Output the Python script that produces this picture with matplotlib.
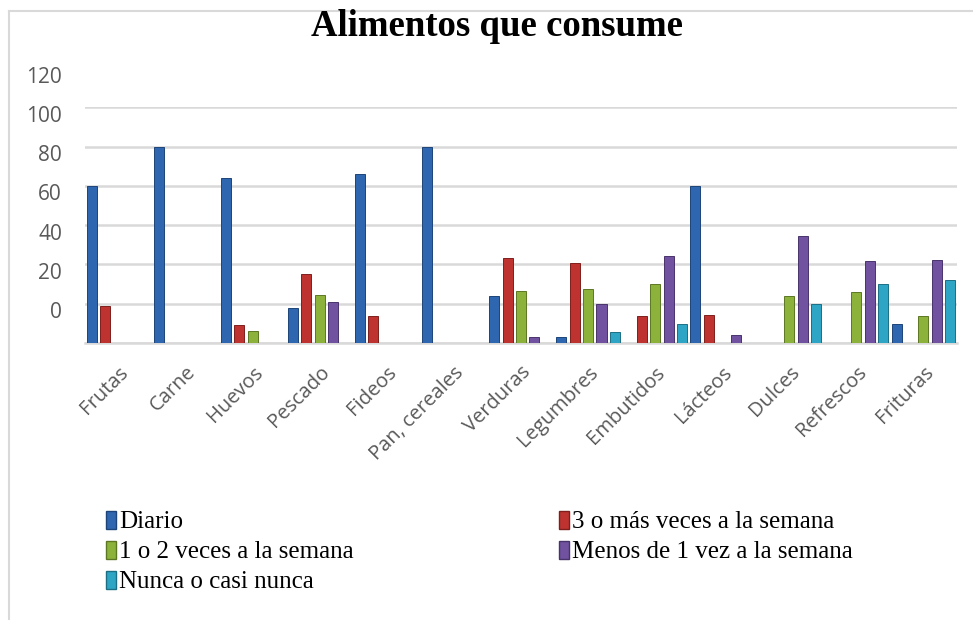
import matplotlib.pyplot as plt
import matplotlib.transforms as mtransforms
from matplotlib.patches import Patch
from matplotlib.lines import Line2D
import numpy as np

categories = ["Frutas", "Carne", "Huevos", "Pescado", "Fideos", "Pan, cereales",
              "Verduras", "Legumbres", "Embutidos", "Lácteos", "Dulces",
              "Refrescos", "Frituras"]
series_names = ["Diario", "3 o más veces a la semana", "1 o 2 veces a la semana",
                "Menos de 1 vez a la semana", "Nunca o casi nunca"]

diario = [80, 100, 84, 18, 86, 100, 24, 3, 0, 80, 0, 0, 9.5]
tres_mas = [19, 0, 9, 35, 13.5, 0, 43.5, 40.5, 13.5, 14.5, 0, 0, 0]
uno_dos = [0, 0, 6, 24.5, 0, 0, 26.5, 27.5, 30, 0, 24, 26, 13.5]
menos_uno = [0, 0, 0, 21, 0, 0, 3, 20, 44.5, 4, 54.5, 42, 42.5]
nunca = [0, 0, 0, 0, 0, 0, 0, 5.5, 9.5, 0, 20, 30, 32]

tick_values = [0, 20, 40, 60, 80, 100, 120]

colors = ["#2E66B0", "#BE3330", "#8DB23C", "#7152A0", "#2EA5C4"]
edges = ["#1D4478", "#7E1F1D", "#5C7724", "#48336A", "#1B6E84"]

fig = plt.figure(figsize=(9.73, 6.2), dpi=100)
ax = fig.add_axes([85 / 973, 1 - 343 / 620, 872 / 973, 235.7 / 620])

data = [diario, tres_mas, uno_dos, menos_uno, nunca]
x = np.arange(len(categories))
for j, vals in enumerate(data):
    ax.bar(x + (j - 2) * 0.2, vals, width=0.15, color=colors[j],
           edgecolor=edges[j], linewidth=0.7, zorder=3)

ax.set_xlim(-0.5, len(categories) - 0.5)
ax.set_ylim(0, 120)
ax.set_yticks(tick_values)
ax.set_yticklabels([])
ax.tick_params(axis="y", length=0)
ax.grid(axis="y", color="#D9D9D9", linewidth=1.8, zorder=0)
for s in ["top", "right", "left"]:
    ax.spines[s].set_visible(False)
ax.spines["bottom"].set_color("#D9D9D9")
ax.spines["bottom"].set_linewidth(1.8)

# y labels sit one step above their gridline, shifted down a little
off = mtransforms.ScaledTranslation(0, -9 / 100, fig.dpi_scale_trans)
trans = mtransforms.blended_transform_factory(ax.transAxes, ax.transData) + off
for v in tick_values:
    ax.text(-23 / 872, v + 20, str(v), transform=trans, ha="right", va="center",
            fontsize=15, color="#595959", family="Open Sans", clip_on=False)

ax.set_xticks(x)
ax.set_xticklabels(categories, rotation=45, ha="right", rotation_mode="anchor",
                   fontsize=14.5, color="#595959", family="Open Sans")
ax.tick_params(axis="x", length=0, pad=14)

fig.text(497 / 973, 1 - 26 / 620, "Alimentos que consume", ha="center", va="center",
         fontsize=26.5, fontweight="bold", family="Liberation Serif")

# frame lines of the chart area
fig.add_artist(Line2D([9 / 973, 9 / 973], [0, 1 - 11 / 620], color="#D9D9D9", linewidth=1.5))
fig.add_artist(Line2D([9 / 973, 1], [1 - 11 / 620, 1 - 11 / 620], color="#D9D9D9", linewidth=1.5))

handles = [Patch(facecolor=colors[j], edgecolor=edges[j], label=series_names[j]) for j in range(5)]
order = [0, 2, 4, 1, 3]
fig.legend([handles[i] for i in order], [series_names[i] for i in order], ncol=2,
           loc="upper left", bbox_to_anchor=(106 / 973, 1 - 511 / 620), frameon=False,
           prop={"family": "Liberation Serif", "size": 18}, handlelength=0.4,
           handleheight=0.7, handletextpad=0.12, labelspacing=0.3, columnspacing=8.2,
           borderpad=0, borderaxespad=0)

fig.savefig("out.png", dpi=100)
